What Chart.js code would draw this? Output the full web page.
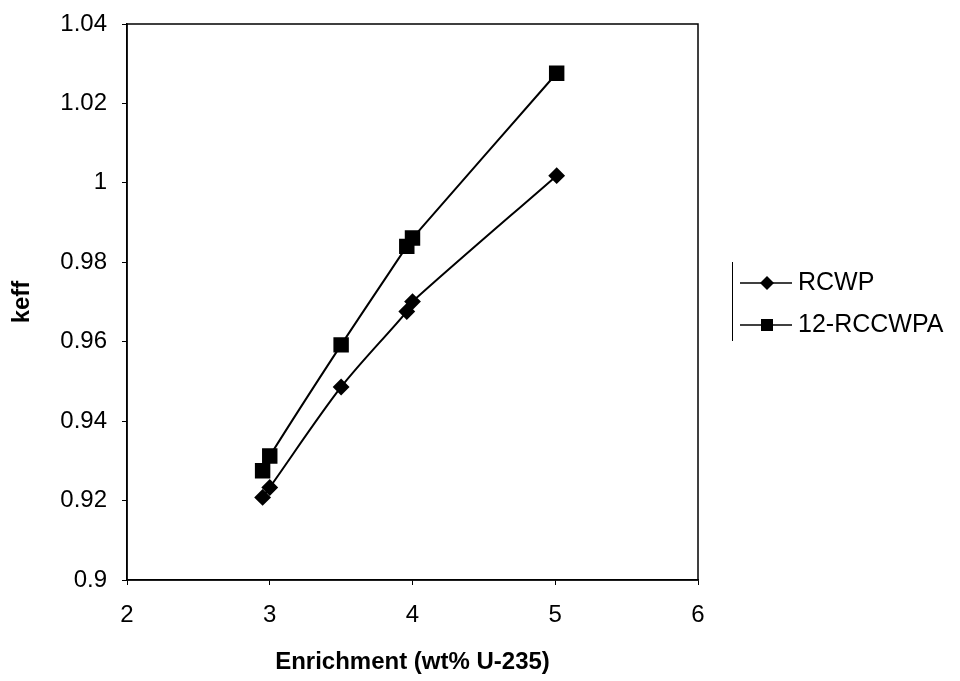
<!DOCTYPE html>
<html>
<head>
<meta charset="utf-8">
<script src="https://cdn.jsdelivr.net/npm/chart.js@4"></script>
<style>
  html, body { margin: 0; padding: 0; background: #fff; }
  #wrap { width: 960px; height: 681px; }
</style>
</head>
<body>
<div id="wrap"><canvas id="chart" width="960" height="681"></canvas></div>
<script>
// ---- data ----
const enrichment = [2.95, 3.0, 3.5, 3.96, 4.0, 5.01];
const keffRCWP = [0.9208, 0.9233, 0.9486, 0.9676, 0.9701, 1.0018];
const keffRCCWPA = [0.9275, 0.9312, 0.9592, 0.9840, 0.9861, 1.0276];
const seriesNames = ["RCWP", "12-RCCWPA"];
const xTicks = [2, 3, 4, 5, 6];
const yTicks = [0.9, 0.92, 0.94, 0.96, 0.98, 1, 1.02, 1.04];

const FONT = "'Liberation Sans', Arial, sans-serif";

const pts = ys => enrichment.map((x, i) => ({ x, y: ys[i] }));

// frame around the plot area
const boxPlugin = {
  id: "box",
  afterDatasetsDraw(chart) {
    const { ctx, chartArea: a } = chart;
    ctx.save();
    ctx.strokeStyle = "#000";
    ctx.lineWidth = 1.5;
    ctx.strokeRect(a.left, a.top, a.right - a.left, a.bottom - a.top);
    ctx.restore();
  }
};

// legend drawn to the right, styled from the datasets
const legendPlugin = {
  id: "sideLegend",
  afterDraw(chart) {
    const { ctx } = chart;
    ctx.save();
    ctx.strokeStyle = "#000";
    ctx.fillStyle = "#000";
    ctx.lineWidth = 1;
    ctx.beginPath();
    ctx.moveTo(732.5, 262);
    ctx.lineTo(732.5, 341);
    ctx.stroke();
    chart.data.datasets.forEach((ds, i) => {
      const y = 283 + i * 42;
      const cx = 767;
      ctx.lineWidth = 1.5;
      ctx.beginPath();
      ctx.moveTo(740, y);
      ctx.lineTo(792, y);
      ctx.stroke();
      ctx.beginPath();
      if (ds.pointStyle === "rect") {
        ctx.rect(cx - 6, y - 6, 12, 12);
      } else {
        const r = 7;
        ctx.moveTo(cx - r, y); ctx.lineTo(cx, y - r); ctx.lineTo(cx + r, y); ctx.lineTo(cx, y + r); ctx.closePath();
      }
      ctx.fill();
      ctx.font = "25px " + FONT;
      ctx.textBaseline = "middle";
      ctx.fillText(ds.label, 798, y);
    });
    ctx.restore();
  }
};

new Chart(document.getElementById("chart"), {
  type: "line",
  data: {
    datasets: [
      {
        label: seriesNames[0],
        data: pts(keffRCWP),
        borderColor: "#000",
        backgroundColor: "#000",
        borderWidth: 2,
        pointStyle: "rectRot",
        pointRadius: 7,
        tension: 0.3
      },
      {
        label: seriesNames[1],
        data: pts(keffRCCWPA),
        borderColor: "#000",
        backgroundColor: "#000",
        borderWidth: 2,
        pointStyle: "rect",
        pointRadius: 9.5,
        tension: 0.3
      }
    ]
  },
  options: {
    responsive: false,
    animation: false,
    layout: { padding: { top: 24, right: 262, left: 0, bottom: 0 } },
    plugins: { legend: { display: false }, tooltip: { enabled: false } },
    scales: {
      x: {
        type: "linear",
        min: 2, max: 6,
        afterBuildTicks: s => { s.ticks = xTicks.map(v => ({ value: v })); },
        afterFit: s => { s.height = 101; },
        grid: { drawOnChartArea: false, color: "#000", tickLength: 5 },
        border: { color: "#000", width: 1.5 },
        ticks: { color: "#000", font: { family: FONT, size: 24 }, padding: 16 },
        title: { display: true, text: "Enrichment (wt% U-235)", color: "#000",
                 font: { family: FONT, size: 24, weight: "bold" }, padding: { top: 4, bottom: 4 } }
      },
      y: {
        type: "linear",
        min: 0.9, max: 1.04,
        afterBuildTicks: s => { s.ticks = yTicks.map(v => ({ value: v })); },
        afterFit: s => { s.width = 127; s.paddingTop = 0; s.paddingBottom = 0; },
        grid: { drawOnChartArea: false, color: "#000", tickLength: 5 },
        border: { color: "#000", width: 1.5 },
        ticks: { color: "#000", font: { family: FONT, size: 24 }, padding: 15,
                 callback: v => String(Math.round(v * 100) / 100) },
        title: { display: true, text: "keff", color: "#000",
                 font: { family: FONT, size: 24, weight: "bold" }, padding: { top: 8, bottom: 0 } }
      }
    }
  },
  plugins: [boxPlugin, legendPlugin]
});
</script>
</body>
</html>
